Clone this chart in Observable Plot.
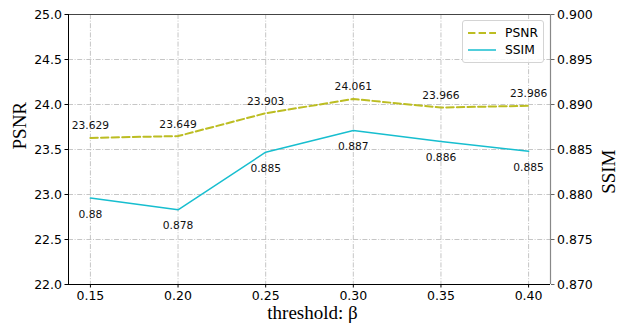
<!DOCTYPE html>
<html>
<head>
<meta charset="utf-8">
<script src="https://cdn.jsdelivr.net/npm/d3@7"></script>
<script src="https://cdn.jsdelivr.net/npm/@observablehq/plot@0.6"></script>
<style>
  html, body { margin: 0; padding: 0; background: #fff; }
  #wrap { position: relative; width: 618px; height: 326px; }
  #wrap svg { position: absolute; left: 0; top: 0; }
  #legend { position: absolute; left: 462px; top: 20px; width: 80px; height: 41px;
    border: 1px solid #d4d4d4; border-radius: 3px; background: rgba(255,255,255,0.85);
    font-family: "DejaVu Sans"; font-size: 12.3px; color: #000; z-index: 5; }
  .lg { position: absolute; left: 5px; display: flex; align-items: center; height: 16px; }
  .lg span { margin-left: 9px; }
</style>
</head>
<body>
<div id="wrap"></div>
<script>
const thresholds = [0.15, 0.20, 0.25, 0.30, 0.35, 0.40];
const psnr = [23.629, 23.649, 23.903, 24.061, 23.966, 23.986];
const ssim = [0.8796, 0.8783, 0.8847, 0.8871, 0.8859, 0.8848];
const psnrLabels = ["23.629", "23.649", "23.903", "24.061", "23.966", "23.986"];
const ssimLabels = ["0.88", "0.878", "0.885", "0.887", "0.886", "0.885"];
const xTicks = [0.15, 0.20, 0.25, 0.30, 0.35, 0.40];
const psnrTicks = [22.0, 22.5, 23.0, 23.5, 24.0, 24.5, 25.0];
const ssimTicks = [0.870, 0.875, 0.880, 0.885, 0.890, 0.895, 0.900];
const seriesNames = ["PSNR", "SSIM"];
const colors = ["#bcbd22", "#17becf"];

const psnrData = thresholds.map((t, i) => ({t, v: psnr[i], label: psnrLabels[i]}));
const ssimData = thresholds.map((t, i) => ({t, v: ssim[i], label: ssimLabels[i]}));

const W = 618, H = 326;
const common = {
  width: W, height: H,
  marginLeft: 68, marginRight: 68, marginTop: 14, marginBottom: 42,
  style: {fontFamily: "DejaVu Sans", fontSize: "12.5px", color: "#000", background: "transparent", overflow: "visible"}
};
const gridStyle = {stroke: "#b8b8b8", strokeOpacity: 1, strokeWidth: 0.8, strokeDasharray: "5,1.6,1,1.6"};
const serif = "Liberation Serif";
const titleSize = 19;

const p1 = Plot.plot({
  ...common,
  x: {domain: [0.1375, 0.4125]},
  y: {domain: [22, 25]},
  marks: [
    Plot.gridX(xTicks, gridStyle),
    Plot.gridY(psnrTicks.slice(1, -1), gridStyle),
    Plot.axisX(xTicks, {tickFormat: d => d.toFixed(2), tickSize: 3.5, tickPadding: 3, label: null, fontSize: 12.5, stroke: "#000"}),
    Plot.axisY(psnrTicks, {tickFormat: d => d.toFixed(1), tickSize: 3.5, tickPadding: 3, label: null, fontSize: 12.5, stroke: "#000"}),
    Plot.lineY(psnrData, {x: "t", y: "v", stroke: colors[0], strokeWidth: 2, strokeDasharray: "7.4,3.2"}),
    Plot.text(psnrData, {x: "t", y: "v", text: "label", dy: -12, fontSize: 10.7, fill: "#111"}),
    Plot.ruleY([22], {stroke: "#000", strokeWidth: 1}),
    Plot.ruleY([25], {stroke: "#444", strokeWidth: 1}),
    Plot.ruleX([0.1375], {stroke: "#000", strokeWidth: 1}),
    Plot.text(["PSNR"], {frameAnchor: "left", rotate: -90, dx: -49, fontFamily: serif, fontSize: titleSize, fill: "#000"}),
    Plot.text(["threshold: β"], {frameAnchor: "bottom", dx: 3, dy: 34, fontFamily: serif, fontSize: titleSize, fill: "#000"})
  ]
});

const p2 = Plot.plot({
  ...common,
  x: {domain: [0.1375, 0.4125], axis: null},
  y: {domain: [0.870, 0.900], axis: null},
  marks: [
    Plot.axisY(ssimTicks, {anchor: "right", tickFormat: d => d.toFixed(3), tickSize: 3.5, tickPadding: 3, label: null, fontSize: 12.5, stroke: "#666"}),
    Plot.lineY(ssimData, {x: "t", y: "v", stroke: colors[1], strokeWidth: 1.5}),
    Plot.text(ssimData, {x: "t", y: "v", text: "label", dy: 16, fontSize: 10.7, fill: "#111"}),
    Plot.ruleX([0.4125], {stroke: "#888", strokeWidth: 1.2}),
    Plot.text(["SSIM"], {frameAnchor: "right", rotate: -90, dx: 58, fontFamily: serif, fontSize: titleSize, fill: "#000"})
  ]
});

const wrap = document.getElementById("wrap");
wrap.appendChild(p1);
wrap.appendChild(p2);

const legend = document.createElement("div");
legend.id = "legend";
seriesNames.forEach((name, i) => {
  const row = document.createElement("div");
  row.className = "lg";
  row.style.top = (i === 0 ? 4 : 21) + "px";
  const dash = i === 0 ? 'stroke-dasharray="7.4,3.2"' : "";
  const sw = i === 0 ? 2 : 1.5;
  row.innerHTML = `<svg width="28" height="6" style="position:static"><line x1="0" y1="3" x2="28" y2="3" stroke="${colors[i]}" stroke-width="${sw}" ${dash}/></svg><span>${name}</span>`;
  legend.appendChild(row);
});
wrap.appendChild(legend);
</script>
</body>
</html>
